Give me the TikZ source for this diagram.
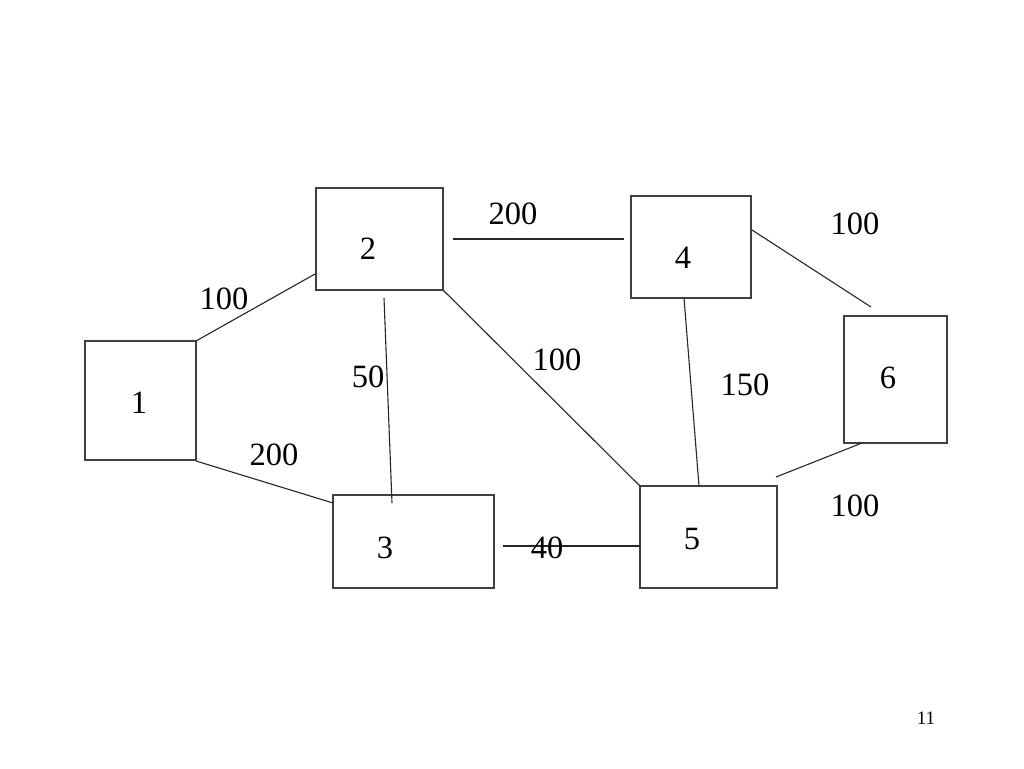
\documentclass[tikz,border=0pt]{standalone}
\usepackage{fontspec}
\setmainfont{Liberation Serif}
\begin{document}
\begin{tikzpicture}[x=1pt,y=-1pt,line width=1pt,
  box/.style={draw=black!75,line width=1.1pt,inner sep=0pt},
  num/.style={font=\fontsize{32.5}{36}\selectfont,inner sep=0pt},
  wt/.style={font=\fontsize{32.5}{36}\selectfont,inner sep=0pt},
  edge/.style={draw=black!85,line width=1.1pt}]
\useasboundingbox[fill=white] (0,0) rectangle (1024,768);
% boxes
\node[box,minimum width=111pt,minimum height=119pt] (b1) at (140.5,400.5) {};
\node[box,minimum width=127pt,minimum height=102pt] (b2) at (379.5,239) {};
\node[box,minimum width=161pt,minimum height=93pt] (b3) at (413.5,541.5) {};
\node[box,minimum width=120pt,minimum height=102pt] (b4) at (691,247) {};
\node[box,minimum width=137pt,minimum height=102pt] (b5) at (708.5,537) {};
\node[box,minimum width=103pt,minimum height=127pt] (b6) at (895.5,379.5) {};
% box numbers
\node[num] (n1) at (139,403) {1};
\node[num] (n2) at (368,249) {2};
\node[num] (n3) at (385,548) {3};
\node[num] (n4) at (683,258) {4};
\node[num] (n5) at (692,539) {5};
\node[num] (n6) at (888,378) {6};
% line end points
\coordinate (e12a) at (196,341); \coordinate (e12b) at (315,274);
\coordinate (e13a) at (196,461); \coordinate (e13b) at (333,503);
\coordinate (e23a) at (384,298); \coordinate (e23b) at (392,503);
\coordinate (e24a) at (453,239); \coordinate (e24b) at (624,239);
\coordinate (e25a) at (443,290); \coordinate (e25b) at (640,486);
\coordinate (e45a) at (684,298); \coordinate (e45b) at (699,486);
\coordinate (e35a) at (503,546); \coordinate (e35b) at (640,546);
\coordinate (e46a) at (752,230); \coordinate (e46b) at (871,307);
\coordinate (e56a) at (776,477); \coordinate (e56b) at (862,443);
% connectors
\draw[edge] (e12a) -- (e12b);
\draw[edge] (e13a) -- (e13b);
\draw[edge] (e23a) -- (e23b);
\draw[edge] (e24a) -- (e24b);
\draw[edge] (e25a) -- (e25b);
\draw[edge] (e45a) -- (e45b);
\draw[edge] (e35a) -- (e35b);
\draw[edge] (e46a) -- (e46b);
\draw[edge] (e56a) -- (e56b);
% weights
\node[wt] (w12) at (224,299) {100};
\node[wt] (w13) at (274,455) {200};
\node[wt] (w23) at (368,377) {50};
\node[wt] (w24) at (513,214) {200};
\node[wt] (w25) at (557,360) {100};
\node[wt] (w45) at (745,385) {150};
\node[wt] (w46) at (855,224) {100};
\node[wt] (w56) at (855,506) {100};
\node[wt] (w35) at (547,548) {40};
% page number
\node[font=\fontsize{19}{22}\selectfont,inner sep=0pt] (pg) at (926,718) {11};
\end{tikzpicture}
\end{document}
